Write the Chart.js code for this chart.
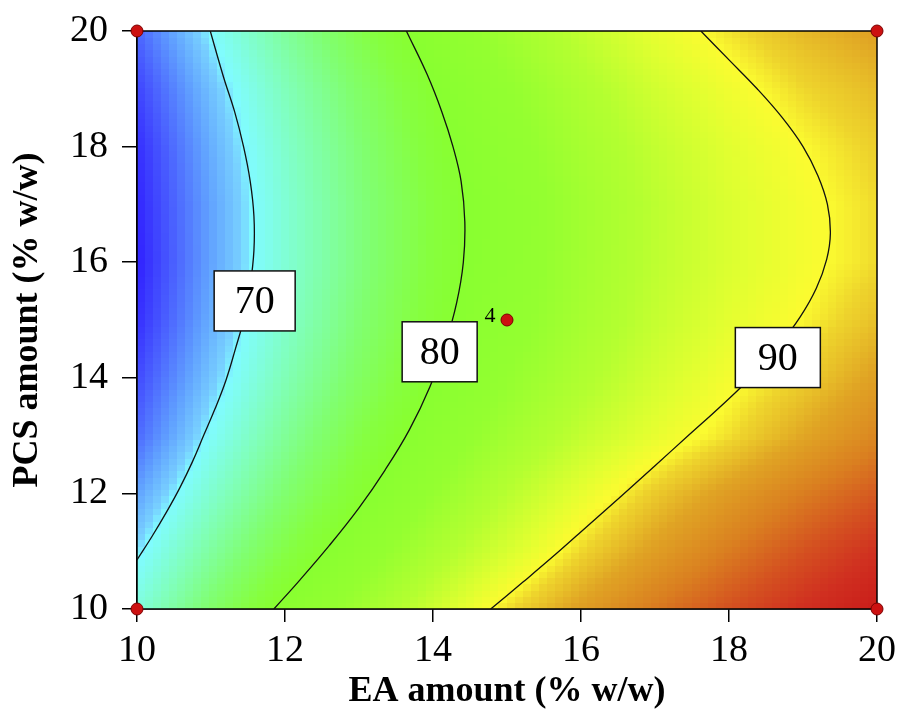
<!DOCTYPE html>
<html>
<head>
<meta charset="utf-8">
<script src="https://cdn.jsdelivr.net/npm/chart.js@4.4.0/dist/chart.umd.min.js"></script>
<style>
body { margin: 0; background: #fff; }
</style>
</head>
<body>
<canvas id="myChart" width="900" height="714"></canvas>
<script>
// factor levels: EA on x, PCS on y
const eaLevels = [10, 11, 12, 13, 14, 15, 16, 17, 18, 19, 20];
const pcsLevels = [10, 11, 12, 13, 14, 15, 16, 17, 18, 19, 20];

const resp10 = [71.5, 76.3, 80.6, 84.1, 87.4, 90.7, 93.4, 95.8, 98.0, 100.1, 102.0];
const resp11 = [69.6, 74.0, 78.1, 81.8, 85.1, 88.0, 90.9, 93.4, 95.7, 97.9, 100.0];
const resp12 = [67.6, 72.0, 76.0, 79.7, 83.1, 86.2, 88.9, 91.4, 93.6, 95.6, 97.5];
const resp13 = [65.6, 70.2, 74.3, 78.1, 81.4, 84.3, 86.8, 88.9, 90.7, 92.9, 95.0];
const resp14 = [64.5, 68.9, 73.0, 76.7, 80.0, 83.0, 85.5, 87.7, 89.6, 91.2, 93.3];
const resp15 = [63.5, 68.0, 72.1, 75.9, 79.2, 82.1, 84.7, 86.9, 88.7, 90.1, 91.8];
const resp16 = [63.0, 67.6, 71.7, 75.4, 78.8, 81.7, 84.3, 86.5, 88.2, 89.6, 90.8];
const resp17 = [63.2, 67.6, 71.7, 75.4, 78.7, 81.6, 84.2, 86.4, 88.2, 89.6, 90.8];
const resp18 = [63.5, 68.0, 72.1, 75.8, 79.2, 82.1, 84.7, 86.8, 88.6, 90.0, 91.2];
const resp19 = [64.3, 68.7, 72.8, 76.5, 79.8, 82.8, 85.4, 87.6, 89.4, 90.9, 92.0];
const resp20 = [65.5, 70.0, 74.1, 77.8, 81.2, 84.1, 86.7, 88.9, 90.6, 92.1, 93.2];
const responseRows = [resp10, resp11, resp12, resp13, resp14, resp15, resp16, resp17, resp18, resp19, resp20];

// contour lines
const c70X = [10.00, 10.20, 10.40, 10.58, 10.75, 10.90, 11.05, 11.20, 11.33, 11.45, 11.53, 11.58, 11.58, 11.53, 11.44, 11.32, 11.17, 10.99];
const c70Y = [10.85, 11.25, 11.68, 12.10, 12.55, 13.00, 13.45, 13.95, 14.50, 15.05, 15.60, 16.20, 16.80, 17.40, 18.00, 18.60, 19.20, 20.00];
const c80X = [11.85, 12.20, 12.60, 13.00, 13.35, 13.68, 13.96, 14.17, 14.32, 14.41, 14.43, 14.38, 14.27, 14.12, 13.92, 13.64];
const c80Y = [10.00, 10.50, 11.10, 11.75, 12.40, 13.10, 13.85, 14.60, 15.30, 16.00, 16.70, 17.40, 18.00, 18.60, 19.25, 20.00];
const c90X = [14.78, 15.22, 15.66, 16.10, 16.55, 17.00, 17.45, 17.90, 18.32, 18.67, 18.96, 19.18, 19.32, 19.37, 19.33, 19.20, 19.00, 18.72, 18.38, 18.00, 17.62];
const c90Y = [10.00, 10.47, 10.95, 11.45, 11.96, 12.48, 13.00, 13.52, 14.04, 14.55, 15.05, 15.55, 16.05, 16.50, 17.00, 17.50, 18.00, 18.50, 19.00, 19.50, 20.00];

// contour labels
const contourLevels = ["70", "80", "90"];
const labelX = [11.59, 14.09, 18.66];
const labelY = [15.33, 14.45, 14.35];

// design points
const designX = [10, 10, 20, 20, 15];
const designY = [10, 20, 10, 20, 15];
const centerCount = "4";

// colour map (value -> colour)
const stopValues = [62, 63, 65.3, 67.5, 69.3, 70, 73, 76, 78.5, 80, 83, 86, 88.5, 90, 91, 93, 95.5, 98, 100, 102.5];
const stopColors = ["#2818ff", "#3020ff", "#4a60ff", "#60a0ff", "#78d0ff", "#80fcff", "#80ffb8", "#80ff70",
    "#86ff40", "#88ff30", "#94ff30", "#b4ff30", "#e0ff30", "#fbfb30", "#eed42c", "#e0a424", "#da8020",
    "#d45020", "#d03020", "#c81818"];

function toPts(xs, ys) {
    return xs.map(function (x, i) { return { x: x, y: ys[i] }; });
}

function hexRgb(h) {
    return [parseInt(h.substr(1, 2), 16), parseInt(h.substr(3, 2), 16), parseInt(h.substr(5, 2), 16)];
}
const stopRgb = stopColors.map(hexRgb);

function colourFor(v) {
    if (v <= stopValues[0]) return stopColors[0];
    const last = stopValues.length - 1;
    if (v >= stopValues[last]) return stopColors[last];
    let k = 0;
    while (stopValues[k + 1] < v) k++;
    const t = (v - stopValues[k]) / (stopValues[k + 1] - stopValues[k]);
    const a = stopRgb[k], b = stopRgb[k + 1];
    const c = a.map(function (ch, i) { return Math.round(ch + (b[i] - ch) * t); });
    return "rgb(" + c[0] + "," + c[1] + "," + c[2] + ")";
}

function findCell(levels, v) {
    let i = 0;
    while (i < levels.length - 2 && levels[i + 1] < v) i++;
    return i;
}

function surface(x, y) {
    const i = findCell(eaLevels, x), j = findCell(pcsLevels, y);
    const tx = (x - eaLevels[i]) / (eaLevels[i + 1] - eaLevels[i]);
    const ty = (y - pcsLevels[j]) / (pcsLevels[j + 1] - pcsLevels[j]);
    const r0 = responseRows[j], r1 = responseRows[j + 1];
    const a = r0[i] + (r0[i + 1] - r0[i]) * tx;
    const b = r1[i] + (r1[i + 1] - r1[i]) * tx;
    return a + (b - a) * ty;
}

const surfacePlugin = {
    id: "surface",
    beforeDatasetsDraw(chart) {
        const ctx = chart.ctx, xs = chart.scales.x, ys = chart.scales.y, area = chart.chartArea;
        const n = 92;
        const x0 = eaLevels[0], x1 = eaLevels[eaLevels.length - 1];
        const y0 = pcsLevels[0], y1 = pcsLevels[pcsLevels.length - 1];
        const dx = (x1 - x0) / n, dy = (y1 - y0) / n;
        ctx.save();
        for (let i = 0; i < n; i++) {
            const xa = x0 + i * dx, xb = xa + dx;
            const px0 = Math.floor(xs.getPixelForValue(xa)), px1 = Math.ceil(xs.getPixelForValue(xb));
            for (let j = 0; j < n; j++) {
                const ya = y0 + j * dy, yb = ya + dy;
                const py0 = Math.floor(ys.getPixelForValue(yb)), py1 = Math.ceil(ys.getPixelForValue(ya));
                ctx.fillStyle = colourFor(surface((xa + xb) / 2, (ya + yb) / 2));
                ctx.fillRect(px0, py0, px1 - px0, py1 - py0);
            }
        }
        ctx.strokeStyle = "#000";
        ctx.lineWidth = 1.5;
        ctx.strokeRect(area.left, area.top, area.right - area.left, area.bottom - area.top);
        ctx.restore();
    },
    afterDatasetsDraw(chart) {
        const ctx = chart.ctx, xs = chart.scales.x, ys = chart.scales.y;
        ctx.save();
        ctx.font = "40px 'Liberation Serif'";
        ctx.textAlign = "center";
        ctx.textBaseline = "middle";
        contourLevels.forEach(function (txt, k) {
            const cx = xs.getPixelForValue(labelX[k]), cy = ys.getPixelForValue(labelY[k]);
            const w = k === 1 ? 75 : (k === 2 ? 85 : 81), h = 60;
            ctx.fillStyle = "#fff";
            ctx.fillRect(cx - w / 2, cy - h / 2, w, h);
            ctx.strokeStyle = "#111";
            ctx.lineWidth = 1.5;
            ctx.strokeRect(cx - w / 2, cy - h / 2, w, h);
            ctx.fillStyle = "#000";
            ctx.fillText(txt, cx, cy + 2);
        });
        ctx.font = "22px 'Liberation Serif'";
        ctx.fillText(centerCount, xs.getPixelForValue(designX[4]) - 17, ys.getPixelForValue(designY[4]) - 4);
        ctx.restore();
    }
};

const lineStyle = { showLine: true, borderColor: "#111", borderWidth: 1.3, pointRadius: 0, tension: 0.4, fill: false };

new Chart("myChart", {
    type: "scatter",
    data: {
        datasets: [
            Object.assign({ data: toPts(c70X, c70Y) }, lineStyle),
            Object.assign({ data: toPts(c80X, c80Y) }, lineStyle),
            Object.assign({ data: toPts(c90X, c90Y) }, lineStyle),
            {
                data: toPts(designX, designY),
                pointRadius: 6,
                backgroundColor: "#cc1111",
                borderColor: "#7a0000",
                borderWidth: 1,
                clip: false
            }
        ]
    },
    options: {
        responsive: false,
        animation: false,
        plugins: { legend: { display: false }, tooltip: { enabled: false } },
        layout: { padding: { top: 31, right: 23, left: 0, bottom: 0 } },
        scales: {
            x: {
                type: "linear", min: 10, max: 20,
                ticks: { stepSize: 2, color: "#000", font: { family: "Liberation Serif", size: 38 }, padding: 6 },
                grid: { display: true, drawOnChartArea: false, tickLength: 13, color: "#000", lineWidth: 1.5 },
                border: { display: true, color: "#000", width: 1.5 },
                title: { display: true, text: "EA amount (% w/w)", color: "#000", font: { family: "Liberation Serif", size: 36, weight: "bold" }, padding: { top: 0, bottom: 1 } },
                afterFit: function (s) { s.height = 105; s.paddingLeft = 0; s.paddingRight = 0; }
            },
            y: {
                type: "linear", min: 10, max: 20,
                ticks: { stepSize: 2, color: "#000", font: { family: "Liberation Serif", size: 38 }, padding: 14 },
                grid: { display: true, drawOnChartArea: false, tickLength: 15, color: "#000", lineWidth: 1.5 },
                border: { display: true, color: "#000", width: 1.5 },
                title: { display: true, text: "PCS amount (% w/w)", color: "#000", font: { family: "Liberation Serif", size: 36, weight: "bold" }, padding: { top: 6, bottom: 0 } },
                afterFit: function (s) { s.width = 137; s.paddingTop = 0; s.paddingBottom = 0; }
            }
        }
    },
    plugins: [surfacePlugin]
});
</script>
</body>
</html>
